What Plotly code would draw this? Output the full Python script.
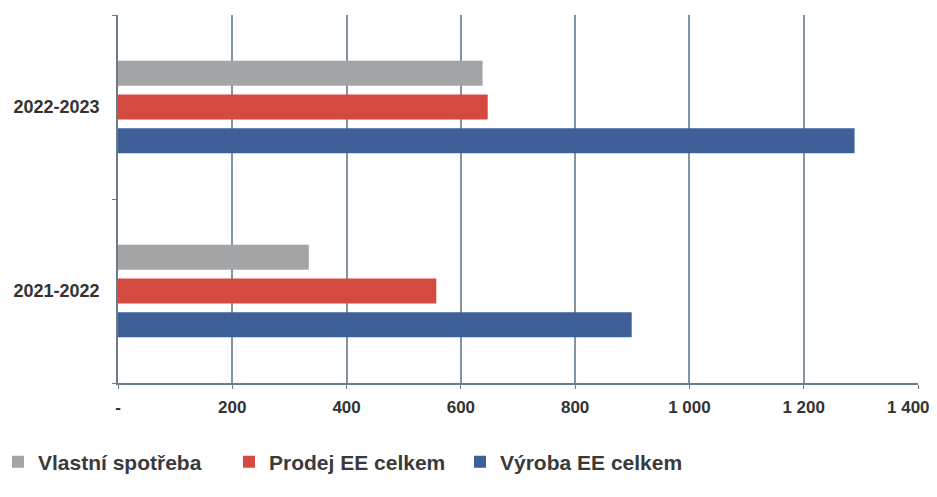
import plotly.graph_objects as go

categories = ["2021-2022", "2022-2023"]
vyroba = [899, 1289]
prodej = [557, 647]
vlastni = [334, 638]
tick_vals = [0, 200, 400, 600, 800, 1000, 1200, 1400]
tick_text = ["-", "200", "400", "600", "800", "1 000", "1 200", "1 400"]

font_fam = "Liberation Sans, Arial, sans-serif"
tick_font = dict(family=font_fam, size=17, color="#333333", weight="bold")

fig = go.Figure()
fig.add_trace(go.Bar(y=categories, x=vyroba, orientation="h", name="Výroba EE celkem",
                     marker=dict(color="#3f5f98", line=dict(width=0))))
fig.add_trace(go.Bar(y=categories, x=prodej, orientation="h", name="Prodej EE celkem",
                     marker=dict(color="#d44a40", line=dict(width=0))))
fig.add_trace(go.Bar(y=categories, x=vlastni, orientation="h", name="Vlastní spotřeba",
                     marker=dict(color="#a2a4a6", line=dict(width=0))))

# last tick label is kept inside the page (as in the reference), at the axis value
fig.add_annotation(x=tick_vals[-1], xref="x", y=-0.066, yref="paper",
                   text=tick_text[-1], showarrow=False, xanchor="right",
                   yanchor="middle", xshift=14, font=tick_font)

fig.update_layout(
    width=929, height=489,
    margin=dict(l=110, r=19, t=7, b=114, autoexpand=False),
    paper_bgcolor="white", plot_bgcolor="white",
    barmode="group", bargap=0.45, bargroupgap=0.26,
    font=dict(family=font_fam, size=14, color="#333333"),
    showlegend=True,
    legend=dict(orientation="h", traceorder="reversed", x=-0.15, xanchor="left",
                y=-0.215, yanchor="middle", entrywidth=186,
                font=dict(family=font_fam, size=21, color="#3a3a3a", weight="bold"),
                itemwidth=30, itemsizing="constant"),
    xaxis=dict(range=[0, 1400], tickvals=tick_vals, ticktext=tick_text[:-1] + [""],
               showgrid=True, gridcolor="#8393a2", gridwidth=1.5,
               showline=True, linecolor="#6a7b89", linewidth=1.6,
               ticks="outside", ticklen=4, tickcolor="#6a7b89",
               tickfont=tick_font,
               ticklabelstandoff=4, ticklabeloverflow="allow",
               zeroline=False, fixedrange=True),
    yaxis=dict(showgrid=False, showline=True, linecolor="#6a7b89", linewidth=1.6,
               ticks="outside", ticklen=4, tickcolor="#6a7b89", tickson="boundaries",
               tickfont=dict(family=font_fam, size=18, color="#333333", weight="bold"),
               ticklabelstandoff=13, fixedrange=True),
)

fig.write_html("out.html")
